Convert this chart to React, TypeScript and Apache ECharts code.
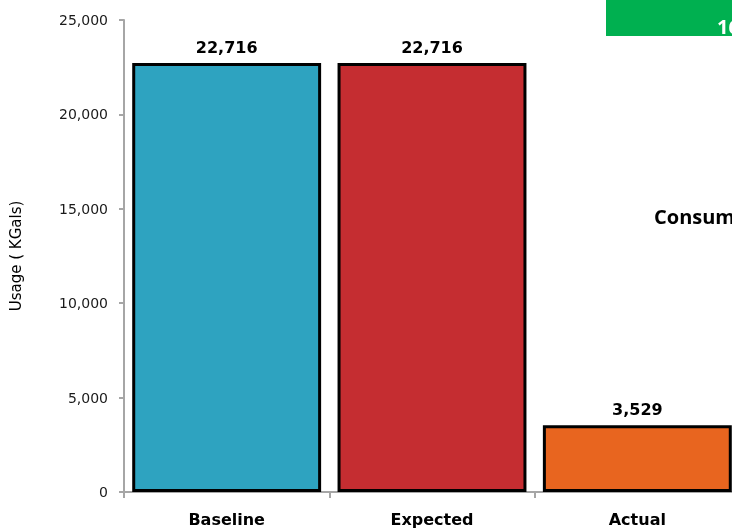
import React, { useEffect, useRef } from "react";
import * as echarts from "echarts";

const categories = ["Baseline", "Expected", "Actual"];
const usageValues = [22716, 22716, 3529];
const barColors = ["#2ea3c0", "#c52d31", "#e8651f"];
const yTicks = [0, 5000, 10000, 15000, 20000, 25000];

export default function App() {
  const ref = useRef<HTMLDivElement>(null);
  useEffect(() => {
    if (!ref.current) return;
    const chart = echarts.init(ref.current, undefined, { renderer: "svg" });
    const font = "'DejaVu Sans', sans-serif";
    chart.setOption({
      animation: false,
      grid: { left: 123, right: 0, top: 20, bottom: 39, containLabel: false },
      xAxis: {
        type: "category",
        data: categories,
        axisLine: { lineStyle: { color: "#a6a6a6", width: 2 } },
        axisTick: { show: true, length: 6, lineStyle: { color: "#a6a6a6", width: 2 } },
        axisLabel: {
          margin: 19,
          color: "#000",
          fontWeight: "bold",
          fontSize: 16,
          fontFamily: font,
        },
      },
      yAxis: {
        type: "value",
        min: yTicks[0],
        max: yTicks[yTicks.length - 1],
        interval: 5000,
        name: "Usage ( KGals)",
        nameLocation: "middle",
        nameGap: 101,
        nameTextStyle: { color: "#000", fontSize: 15, fontFamily: font },
        axisLine: { show: true, lineStyle: { color: "#a6a6a6", width: 2 } },
        axisTick: { show: true, length: 5, lineStyle: { color: "#a6a6a6", width: 2 } },
        splitLine: { show: false },
        axisLabel: {
          margin: 16,
          color: "#1a1a1a",
          fontSize: 14,
          fontFamily: font,
          formatter: (v: number) => v.toLocaleString("en-US"),
        },
      },
      series: [
        {
          type: "bar",
          data: usageValues.map((v, i) => ({
            value: v,
            itemStyle: { color: barColors[i] },
          })),
          barCategoryGap: "8%",
          itemStyle: { borderColor: "#000", borderWidth: 3 },
          label: {
            show: true,
            position: "top",
            distance: 8,
            color: "#000",
            fontWeight: "bold",
            fontSize: 16,
            fontFamily: font,
            formatter: (p: any) => Number(p.value).toLocaleString("en-US"),
          },
        },
      ],
      graphic: [
        {
          type: "rect",
          shape: { x: 606, y: 0, width: 150, height: 36 },
          style: { fill: "#00b050" },
        },
        {
          type: "text",
          x: 717,
          y: 26,
          style: {
            text: "16%",
            fill: "#fff",
            font: "bold 20px 'Open Sans', sans-serif",
            verticalAlign: "middle",
          },
        },
        {
          type: "text",
          x: 654,
          y: 216,
          style: {
            text: "Consumption",
            fill: "#000",
            font: "bold 20px 'Open Sans', sans-serif",
            verticalAlign: "middle",
          },
        },
      ],
    });
    return () => chart.dispose();
  }, []);
  return (
    <div style={{ position: "fixed", left: 0, top: 0, width: 732, height: 531, overflow: "hidden" }}>
      <div ref={ref} style={{ width: 740, height: 531 }} />
    </div>
  );
}
